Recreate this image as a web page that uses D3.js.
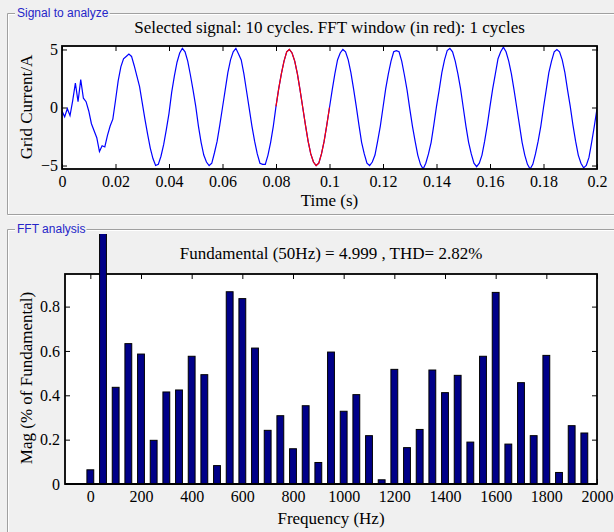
<!DOCTYPE html>
<html><head><meta charset="utf-8">
<script src="https://cdn.jsdelivr.net/npm/d3@7"></script>
<style>body{margin:0;background:#f0f0f0}svg{display:block}</style>
</head><body>
<script>
// ---------- DATA ----------
const signalStart = 0;          // s
const signalStep = 0.001;       // s between samples
const signalValues = [
 -0.3,-0.8,-0.1,-0.7,0.6,2.1,0.5,2.4,0.8,0.5,
 -0.3,-1.4,-2.0,-2.6,-3.8,-3.3,-3.4,-2.4,-1.6,-1.0,
 0.6,2.3,3.5,4.2,4.4,4.6,4.4,3.6,2.7,1.8,
 0.4,-1.0,-2.3,-3.5,-4.4,-5.0,-4.9,-4.2,-3.2,-1.9,
 -0.5,1.3,2.7,3.9,4.7,5.1,4.8,4.0,2.8,1.5,
 0.1,-1.6,-3.0,-4.1,-4.7,-5.0,-4.8,-3.9,-2.9,-1.5,
 0.0,1.5,3.0,4.1,4.8,5.1,4.6,4.1,2.9,1.4,
 -0.1,-1.6,-2.9,-4.0,-4.8,-4.9,-4.9,-4.1,-3.0,-1.6,
 0.1,1.6,2.9,4.0,4.8,5.0,4.7,4.0,2.9,1.5,
 0.0,-1.5,-2.9,-4.0,-4.7,-5.0,-4.8,-4.0,-2.9,-1.5,
 0.0,1.5,2.9,4.1,4.7,5.0,4.8,4.1,3.0,1.6,
 0.1,-1.5,-3.0,-4.0,-4.8,-5.0,-4.7,-4.1,-2.9,-1.6,
 0.0,1.6,2.9,4.0,4.8,4.9,4.8,4.0,2.8,1.5,
 -0.1,-1.6,-2.9,-4.1,-4.9,-5.3,-4.8,-4.0,-3.0,-1.5,
 0.1,1.5,3.0,4.1,4.9,5.1,4.8,4.0,2.9,1.6,
 0.0,-1.6,-3.0,-4.0,-4.8,-5.1,-4.8,-4.1,-2.9,-1.5,
 0.1,1.6,2.9,4.2,4.8,5.2,4.8,4.0,2.9,1.5,
 0.0,-1.5,-3.0,-4.1,-4.9,-5.3,-4.9,-4.0,-2.9,-1.6,
 0.0,1.5,3.0,4.0,4.8,5.0,4.8,4.1,3.0,1.5,
 0.1,-1.5,-2.9,-4.1,-4.8,-5.2,-5.0,-4.3,-3.0,-1.6,
 -0.1
];
const fftWindow = [0.08, 0.1];
const timeTicks = [0,0.02,0.04,0.06,0.08,0.1,0.12,0.14,0.16,0.18,0.2];
const currentTicks = [-5,0,5];

const harmonicFreqs = [0,50,100,150,200,250,300,350,400,450,500,550,600,650,700,750,800,850,900,950,
  1000,1050,1100,1150,1200,1250,1300,1350,1400,1450,1500,1550,1600,1650,1700,1750,1800,1850,1900,1950];
const harmonicMags = [0.064,100,0.436,0.633,0.586,0.197,0.415,0.424,0.576,0.493,0.083,0.867,0.836,0.613,0.242,0.308,0.159,0.353,0.097,0.595,
  0.328,0.403,0.218,0.019,0.517,0.164,0.246,0.514,0.412,0.490,0.189,0.576,0.864,0.180,0.457,0.218,0.580,0.052,0.263,0.230];
const freqTicks = [0,200,400,600,800,1000,1200,1400,1600,1800,2000];
const magTicks = [0,0.2,0.4,0.6,0.8];

const topTitle = "Selected signal: 10 cycles. FFT window (in red): 1 cycles";
const bottomTitle = "Fundamental (50Hz) = 4.999 , THD= 2.82%";

// ---------- DRAW ----------
const W = 614, H = 532;
const serif = "'Liberation Serif', 'Times New Roman', serif";
const sans = "'Liberation Sans', Arial, sans-serif";
const svg = d3.select("body").append("svg").attr("width", W).attr("height", H);
svg.append("rect").attr("width", W).attr("height", H).attr("fill", "#f0f0f0");

function panel(y0, y1, label, labelBaseline) {
  const g = svg.append("g");
  const lines = [[7, y0, W + 5, y0], [7, y0, 7, y1], [7, y1, W + 5, y1]];
  lines.forEach(([a, b, c, d]) => {
    g.append("line").attr("x1", a + 0.5).attr("y1", b + 0.5).attr("x2", c + 0.5).attr("y2", d + 0.5)
      .attr("stroke", "#a0a0a0");
    g.append("line").attr("x1", a + 1.5).attr("y1", b + 1.5).attr("x2", c + 1.5).attr("y2", d + 1.5)
      .attr("stroke", "#ffffff");
  });
  const t = g.append("text").attr("x", 17).attr("y", labelBaseline).attr("font-family", sans)
    .attr("font-size", 12).attr("fill", "#2525c8").text(label);
  const bb = t.node().getBBox();
  g.insert("rect", "text").attr("x", bb.x - 2).attr("y", y0 - 2).attr("width", bb.width + 3).attr("height", 5)
    .attr("fill", "#f0f0f0");
}
panel(13, 214, "Signal to analyze", 17);
panel(229, 560, "FFT analysis", 233);

function frame(g, x, y, ticksX, ticksY, fmt, padX, padY) {
  const [x0, x1] = x.range(), [yb, yt] = y.range();
  g.append("rect").attr("x", x0).attr("y", yt).attr("width", x1 - x0).attr("height", yb - yt).attr("fill", "#fff");
  return () => {
    const axB = g.append("g").attr("transform", `translate(0,${yb})`)
      .call(d3.axisBottom(x).tickValues(ticksX).tickFormat(fmt).tickSizeInner(-5).tickSizeOuter(0).tickPadding(padX));
    const axT = g.append("g").attr("transform", `translate(0,${yt})`)
      .call(d3.axisTop(x).tickValues(ticksX).tickFormat("").tickSizeInner(-5).tickSizeOuter(0));
    const axL = g.append("g").attr("transform", `translate(${x0},0)`)
      .call(d3.axisLeft(y).tickValues(ticksY).tickFormat(fmt).tickSizeInner(-5).tickSizeOuter(0).tickPadding(padY));
    const axR = g.append("g").attr("transform", `translate(${x1},0)`)
      .call(d3.axisRight(y).tickValues(ticksY).tickFormat("").tickSizeInner(-5).tickSizeOuter(0));
    [axB, axT, axL, axR].forEach(a => {
      a.select(".domain").remove();
      a.selectAll("line").attr("stroke", "#000").attr("stroke-width", 1);
      a.selectAll("text").attr("font-family", serif).attr("font-size", 16).attr("fill", "#000");
    });
    g.append("rect").attr("x", x0).attr("y", yt).attr("width", x1 - x0).attr("height", yb - yt)
      .attr("fill", "none").attr("stroke", "#000").attr("stroke-width", 1.8);
  };
}
const fmt = d3.format("~g");

// ---- top chart ----
const xT = d3.scaleLinear().domain([0, 0.2]).range([62, 597]);
const yT = d3.scaleLinear().domain([-5.3, 5.3]).range([169, 46]);
const gT = svg.append("g");
const finishT = frame(gT, xT, yT, timeTicks, currentTicks, fmt, 7, 4);
svg.append("clipPath").attr("id", "clipT").append("rect")
  .attr("x", 62).attr("y", 46).attr("width", 535).attr("height", 123);
const pts = signalValues.map((v, i) => ({ t: signalStart + i * signalStep, v }));
const line = d3.line().x(d => xT(d.t)).y(d => yT(d.v));
gT.append("path").datum(pts).attr("d", line).attr("fill", "none").attr("stroke", "#0000ff")
  .attr("stroke-width", 1.2).attr("clip-path", "url(#clipT)");
gT.append("path").datum(pts.filter(d => d.t >= fftWindow[0] - 1e-9 && d.t <= fftWindow[1] + 1e-9))
  .attr("d", line).attr("fill", "none").attr("stroke", "#ff0000").attr("stroke-width", 1.2);
finishT();
svg.append("text").attr("x", 329.5).attr("y", 33).attr("text-anchor", "middle").attr("font-family", serif)
  .attr("font-size", 17).text(topTitle);
svg.append("text").attr("x", 329.5).attr("y", 206).attr("text-anchor", "middle").attr("font-family", serif)
  .attr("font-size", 17).text("Time (s)");
svg.append("text").attr("transform", "translate(32,107) rotate(-90)").attr("text-anchor", "middle")
  .attr("font-family", serif).attr("font-size", 17).text("Grid Current/A");

// ---- bottom chart ----
const xB = d3.scaleLinear().domain([-100, 2000]).range([65, 597]);
const yB = d3.scaleLinear().domain([0, 0.947]).range([484, 274]);
const gB = svg.append("g");
const finishB = frame(gB, xB, yB, freqTicks, magTicks, fmt, 7, 5);
svg.append("clipPath").attr("id", "clipB").append("rect")
  .attr("x", 0).attr("y", 234).attr("width", W).attr("height", 300);
const barW = xB(27) - xB(0);
finishB();
gB.append("g").attr("clip-path", "url(#clipB)").selectAll("rect").data(harmonicFreqs).join("rect")
  .attr("x", (f) => xB(f) - barW / 2)
  .attr("y", (f, i) => yB(harmonicMags[i]))
  .attr("width", barW)
  .attr("height", (f, i) => yB(0) - yB(harmonicMags[i]))
  .attr("fill", "#000088").attr("stroke", "#000").attr("stroke-width", 1);
gB.append("line").attr("x1", 65).attr("x2", 597).attr("y1", 484).attr("y2", 484)
  .attr("stroke", "#000").attr("stroke-width", 1.8);
svg.append("text").attr("x", 331).attr("y", 259).attr("text-anchor", "middle").attr("font-family", serif)
  .attr("font-size", 17).text(bottomTitle);
svg.append("text").attr("x", 331).attr("y", 524).attr("text-anchor", "middle").attr("font-family", serif)
  .attr("font-size", 17).text("Frequency (Hz)");
svg.append("text").attr("transform", "translate(32,378) rotate(-90)").attr("text-anchor", "middle")
  .attr("font-family", serif).attr("font-size", 17).text("Mag (% of Fundamental)");
</script>
</body></html>
